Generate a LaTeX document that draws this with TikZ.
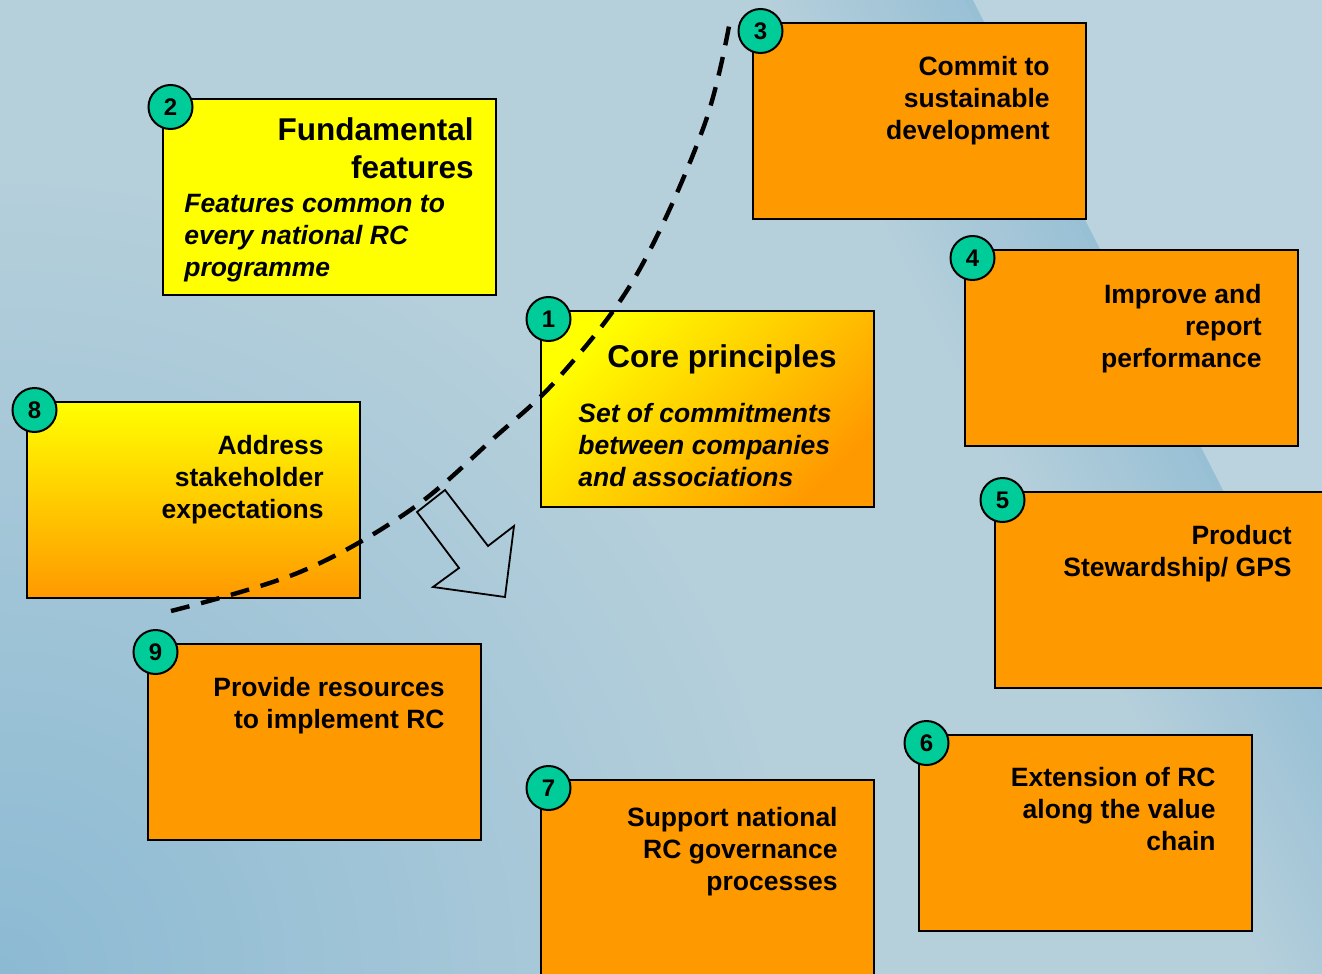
\documentclass[tikz,border=0pt]{standalone}
\usepackage{fontspec}
\setmainfont{Liberation Sans}
\definecolor{bgblue}{HTML}{B5CFDB}
\definecolor{bandblue}{HTML}{98C0D5}
\definecolor{lightblue}{HTML}{BAD3DF}
\definecolor{cornerblue}{HTML}{8CBAD3}
\definecolor{rcorange}{HTML}{FF9900}
\definecolor{rcyellow}{HTML}{FFFF00}
\definecolor{rcteal}{HTML}{00CC99}
\tikzset{
  box/.style={draw, line width=1pt, anchor=north west, inner sep=0pt, outer sep=0pt,
    minimum width=166.5pt, minimum height=98pt},
  obox/.style={box, fill=rcorange},
  ybox/.style={box, fill=rcyellow},
  gbox/.style={box, top color=rcyellow, bottom color=rcorange},
  num/.style={circle, draw, line width=1pt, fill=rcteal, minimum size=22pt,
    inner sep=0pt, font=\bfseries\fontsize{12}{12}\selectfont},
  txt/.style={inner sep=0pt, anchor=base east, align=right,
    font=\bfseries\fontsize{13.25}{16}\selectfont},
  title/.style={inner sep=0pt, anchor=base east, align=right,
    font=\bfseries\fontsize{15.75}{19}\selectfont},
  subtxt/.style={inner sep=0pt, anchor=base west, align=left,
    font=\bfseries\itshape\fontsize{13.25}{16}\selectfont},
  arcline/.style={line width=2.2pt, dash pattern=on 9.5pt off 6pt},
  hollow/.style={line width=0.9pt, line join=miter},
}
\begin{document}
\begin{tikzpicture}[x=0.5pt, y=-0.5pt]
  \useasboundingbox (0,0) rectangle (1322,974);
  \fill[bgblue] (0,0) rectangle (1322,974);
  \foreach \i in {0,...,19}{
    \pgfmathsetmacro\mix{100-5*\i}
    \fill[bandblue!\mix!bgblue] ({962-10*\i},0) -- ({974-10*\i},0) -- ({1471-10*\i},974) -- ({1459-10*\i},974) -- cycle;
  }
  \fill[lightblue] (973,0) -- (1470,0) -- (1470,974) -- cycle;
  \begin{scope}
    \clip (0,0) rectangle (1322,974);
    \shade[inner color=cornerblue, outer color=bgblue] (0,974) circle (800);
  \end{scope}

  \node[ybox] (b2) at (163,99) {};
  \node[gbox, shading angle=45] (b1) at (541,311) {};
  \node[obox] (b3) at (753,23) {};
  \node[obox] (b4) at (965,250) {};
  \node[obox] (b5) at (995,492) {};
  \node[obox] (b6) at (919,735) {};
  \node[obox] (b7) at (541,780) {};
  \node[gbox] (b8) at (27,402) {};
  \node[obox] (b9) at (148,644) {};

  \node[title] (t2) at ([shift={(-22,79)}]b2.north east) {Fundamental\\features};
  \node[subtxt] (s2) at ([shift={(21,177)}]b2.north west) {Features common to\\every national RC\\programme};
  \node[title] (t1) at ([shift={(-37,56)}]b1.north east) {Core principles};
  \node[subtxt] (s1) at ([shift={(37,175)}]b1.north west) {Set of commitments\\between companies\\and associations};
  \node[txt] (t3) at ([shift={(-36,117)}]b3.north east) {Commit to\\sustainable\\development};
  \node[txt] (t4) at ([shift={(-36,117)}]b4.north east) {Improve and\\report\\performance};
  \node[txt] (t5) at ([shift={(-36,84)}]b5.north east) {Product\\Stewardship/ GPS};
  \node[txt] (t6) at ([shift={(-36,115)}]b6.north east) {Extension of RC\\along the value\\chain};
  \node[txt] (t7) at ([shift={(-36,110)}]b7.north east) {Support national\\RC governance\\processes};
  \node[txt] (t8) at ([shift={(-36,116)}]b8.north east) {Address\\stakeholder\\expectations};
  \node[txt] (t9) at ([shift={(-36,84)}]b9.north east) {Provide resources\\to implement RC};

  \node[num] (n1) at ([shift={(7.5,8)}]b1.north west) {1};
  \node[num] (n2) at ([shift={(7.5,8)}]b2.north west) {2};
  \node[num] (n3) at ([shift={(7.5,8)}]b3.north west) {3};
  \node[num] (n4) at ([shift={(7.5,8)}]b4.north west) {4};
  \node[num] (n5) at ([shift={(7.5,8)}]b5.north west) {5};
  \node[num] (n6) at ([shift={(7.5,8)}]b6.north west) {6};
  \node[num] (n7) at ([shift={(7.5,8)}]b7.north west) {7};
  \node[num] (n8) at ([shift={(7.5,8)}]b8.north west) {8};
  \node[num] (n9) at ([shift={(7.5,8)}]b9.north west) {9};

  \coordinate (arcstart) at (171,611);
  \coordinate (arcend) at (731,15);
  \draw[arcline] plot[smooth, tension=0.6] coordinates {(arcstart) (300,572) (409,511) (494,438) (561,375) (637,274) (704,126) (arcend)};
  \draw[hollow] (417,512) -- (445,490) -- (488,546) -- (514,526) -- (505,597) -- (433,587) -- (459,568) -- cycle;
\end{tikzpicture}
\end{document}
